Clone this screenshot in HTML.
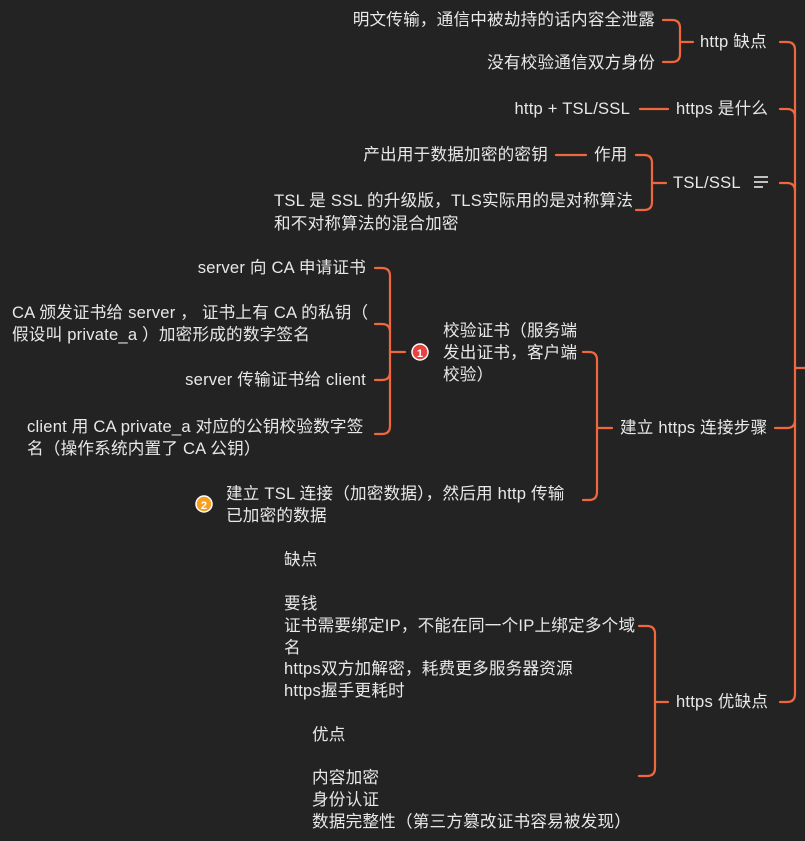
<!DOCTYPE html>
<html><head><meta charset="utf-8"><style>
html,body{margin:0;padding:0;background:#232323;}
svg{display:block}
text{font-family:"Liberation Sans","Noto Sans CJK SC",sans-serif;font-size:16.6px;letter-spacing:0.2px;fill:#e8e8e8;}
</style></head><body>
<svg width="805" height="841" viewBox="0 0 805 841" xmlns="http://www.w3.org/2000/svg">
<rect width="805" height="841" fill="#232323"/>
<g fill="none" stroke="#f0673e" stroke-width="2.2" stroke-linecap="round">
<path d="M780,42 H787 Q795,42 795,50 V694 Q795,702 787,702 H780"/>
<path d="M780,109 H787 Q795,109 795,117"/>
<path d="M780,183 H787 Q795,183 795,191"/>
<path d="M775,428 H787 Q795,428 795,420"/>
<path d="M795,368 H805"/>
<path d="M663,20 H672 Q680,20 680,28 V54 Q680,62 672,62 H663"/>
<path d="M680,42 H693"/>
<path d="M640,109 H668"/>
<path d="M636,155 H644 Q652,155 652,163 V202 Q652,210 644,210 H636"/>
<path d="M652,183 H666"/>
<path d="M556,155 H586"/>
<path d="M583,352 H589 Q597,352 597,360 V492 Q597,500 589,500 H583"/>
<path d="M597,428 H612"/>
<path d="M375,268 H382 Q390,268 390,276 V426 Q390,434 382,434 H375"/>
<path d="M375,324 H382 Q390,324 390,332"/>
<path d="M375,380 H382 Q390,380 390,372"/>
<path d="M390,352 H405"/>
<path d="M639,626 H647 Q655,626 655,634 V768 Q655,776 647,776 H639"/>
<path d="M655,702 H668"/>
</g>
<g stroke="#e8e8e8" stroke-width="1.6">
<line x1="754" y1="177" x2="768" y2="177"/><line x1="754" y1="182" x2="768" y2="182"/><line x1="754" y1="187" x2="763" y2="187"/>
</g>
<circle cx="420" cy="352" r="8" fill="#e8413e" stroke="#fff" stroke-width="1.5"/>
<text x="420" y="357" text-anchor="middle" style="font-size:11px;font-weight:bold;fill:#fff">1</text>
<circle cx="204" cy="504" r="8" fill="#f5a020" stroke="#fff" stroke-width="1.5"/>
<text x="204" y="509" text-anchor="middle" style="font-size:11px;font-weight:bold;fill:#fff">2</text>

<text x="700" y="47">http 缺点</text>
<text x="676" y="114">https 是什么</text>
<text x="673" y="188">TSL/SSL</text>
<text x="620" y="433">建立 https 连接步骤</text>
<text x="676" y="707">https 优缺点</text>

<text x="655" y="25" text-anchor="end">明文传输，通信中被劫持的话内容全泄露</text>
<text x="655" y="68" text-anchor="end">没有校验通信双方身份</text>
<text x="630" y="114" text-anchor="end">http + TSL/SSL</text>
<text x="548" y="160" text-anchor="end">产出用于数据加密的密钥</text>
<text x="594" y="160">作用</text>
<text x="274" y="206">TSL 是 SSL 的升级版，TLS实际用的是对称算法</text>
<text x="274" y="229">和不对称算法的混合加密</text>

<text x="443" y="336">校验证书（服务端</text>
<text x="443" y="358">发出证书，客户端</text>
<text x="443" y="380">校验）</text>

<text x="366" y="273" text-anchor="end">server 向 CA 申请证书</text>
<text x="12" y="318">CA 颁发证书给 server ， 证书上有 CA 的私钥（</text>
<text x="12" y="340">假设叫 private_a ）加密形成的数字签名</text>
<text x="366" y="385" text-anchor="end">server 传输证书给 client</text>
<text x="27" y="432">client 用 CA private_a 对应的公钥校验数字签</text>
<text x="27" y="454">名（操作系统内置了 CA 公钥）</text>
<text x="226" y="499">建立 TSL 连接（加密数据），然后用 http 传输</text>
<text x="226" y="521">已加密的数据</text>

<text x="284" y="565">缺点</text>
<text x="284" y="609">要钱</text>
<text x="284" y="631">证书需要绑定IP，不能在同一个IP上绑定多个域</text>
<text x="284" y="653">名</text>
<text x="284" y="674">https双方加解密，耗费更多服务器资源</text>
<text x="284" y="696">https握手更耗时</text>
<text x="312" y="740">优点</text>
<text x="312" y="783">内容加密</text>
<text x="312" y="805">身份认证</text>
<text x="312" y="827">数据完整性（第三方篡改证书容易被发现）</text>
</svg>
</body></html>
